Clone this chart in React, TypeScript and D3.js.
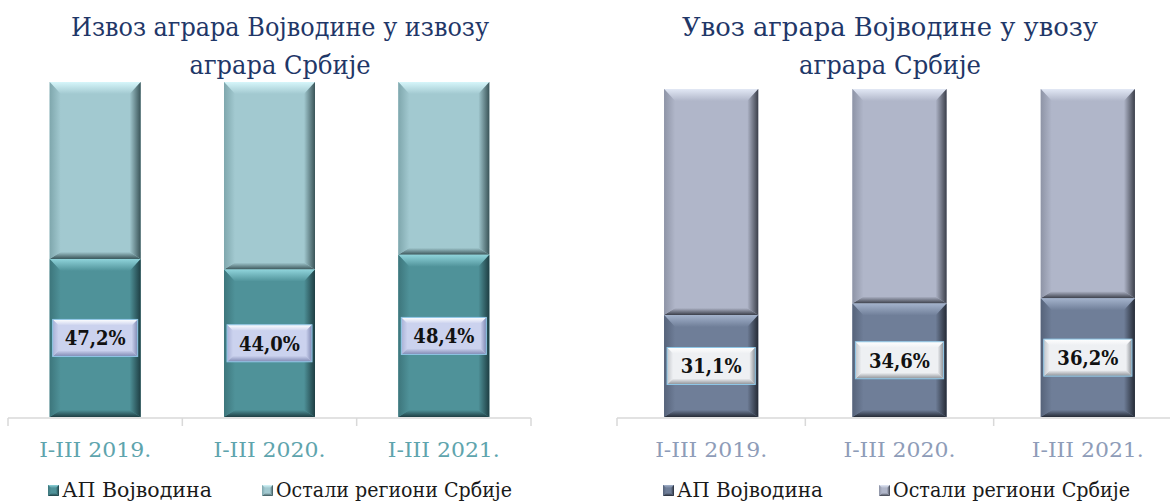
import React from "react";
import * as d3 from "d3";

const categories = ["I-III 2019.", "I-III 2020.", "I-III 2021."];
const exportVojvodina = [47.2, 44.0, 48.4];
const exportOther = [52.8, 56.0, 51.6];
const importVojvodina = [31.1, 34.6, 36.2];
const importOther = [68.9, 65.4, 63.8];
const exportTitle = ["Извоз аграра Војводине у извозу", "аграра Србије"];
const importTitle = ["Увоз аграра Војводине у увозу", "аграра Србије"];
const seriesNames = ["АП Војводина", "Остали региони Србије"];

const W = 1170;
const H = 504;
const SERIF = "'DejaVu Serif', serif";

type Tone = { base: string; light: string; dark: string; side: string };

const teal: Tone = { base: "#4F9299", light: "#8FD3DA", dark: "#1E3E43", side: "#3D767C" };
const tealLight: Tone = { base: "#A2C9D0", light: "#D6F6FA", dark: "#3A5458", side: "#7FA7AD" };
const slate: Tone = { base: "#6F7E98", light: "#A4B3CC", dark: "#252B36", side: "#56637A" };
const slateLight: Tone = { base: "#B0B6C9", light: "#E2E8F5", dark: "#3B3F4A", side: "#8E94A6" };
const lblBlue: Tone = { base: "#CBD2EE", light: "#FFFFFF", dark: "#7F88B2", side: "#A9B1D6" };
const lblGray: Tone = { base: "#EEF0F3", light: "#FFFFFF", dark: "#8C9096", side: "#C3C6CB" };

function GradDefs({ id, t }: { id: string; t: Tone }) {
  return (
    <>
      <linearGradient id={`${id}-top`} x1="0" y1="0" x2="0" y2="1">
        <stop offset="0" stopColor={t.light} />
        <stop offset="1" stopColor={t.base} />
      </linearGradient>
      <linearGradient id={`${id}-bot`} x1="0" y1="0" x2="0" y2="1">
        <stop offset="0" stopColor={t.base} />
        <stop offset="1" stopColor={t.dark} />
      </linearGradient>
      <linearGradient id={`${id}-left`} x1="0" y1="0" x2="1" y2="0">
        <stop offset="0" stopColor={t.side} />
        <stop offset="1" stopColor={t.base} />
      </linearGradient>
      <linearGradient id={`${id}-right`} x1="0" y1="0" x2="1" y2="0">
        <stop offset="0" stopColor={t.base} />
        <stop offset="1" stopColor={t.dark} />
      </linearGradient>
    </>
  );
}

function Bevel({ x, y, w, h, id, t, bt, bs, bb, stroke }: { x: number; y: number; w: number; h: number; id: string; t: Tone; bt: number; bs: number; bb: number; stroke?: string }) {
  const p = (pts: number[][]) => pts.map((q) => q.join(",")).join(" ");
  return (
    <g>
      <rect x={x} y={y} width={w} height={h} fill={t.base} />
      <polygon points={p([[x, y], [x + w, y], [x + w - bs, y + bt], [x + bs, y + bt]])} fill={`url(#${id}-top)`} />
      <polygon points={p([[x, y + h], [x + w, y + h], [x + w - bs, y + h - bb], [x + bs, y + h - bb]])} fill={`url(#${id}-bot)`} />
      <polygon points={p([[x, y], [x + bs, y + bt], [x + bs, y + h - bb], [x, y + h]])} fill={`url(#${id}-left)`} />
      <polygon points={p([[x + w, y], [x + w, y + h], [x + w - bs, y + h - bb], [x + w - bs, y + bt]])} fill={`url(#${id}-right)`} />
      {stroke && <rect x={x} y={y} width={w} height={h} fill="none" stroke={stroke} strokeWidth={1} />}
    </g>
  );
}

type PanelProps = {
  pid: string;
  title: string[];
  titleX: number;
  titleW: number[];
  range: [number, number];
  top: number;
  padding: number;
  vojv: number[];
  other: number[];
  toneA: Tone;
  toneB: Tone;
  lbl: Tone;
  labelColor: string;
  legendX: number[];
  legendW: number[];
};

function Panel(props: PanelProps) {
  const { pid, title, titleX, titleW, range, top, padding, vojv, other, toneA, toneB, lbl, labelColor, legendX, legendW } = props;
  const base = 417;
  const x = d3.scaleBand<string>().domain(categories).range(range).paddingInner(padding).paddingOuter(padding / 2);
  const y = d3.scaleLinear().domain([0, 100]).range([base, top]);
  const bw = x.bandwidth();
  const step = x.step();
  const ticks = [...categories.map((c) => (x(c) as number) - (step - bw) / 2), range[1]];
  return (
    <g>
      <defs>
        <GradDefs id={`${pid}-a`} t={toneA} />
        <GradDefs id={`${pid}-b`} t={toneB} />
        <GradDefs id={`${pid}-l`} t={lbl} />
      </defs>
      {title.map((line, i) => (
        <text key={i} x={titleX} y={36 + i * 38} textAnchor="middle" fontFamily={SERIF} fontSize={26} fill="#1F3768" textLength={titleW[i]} lengthAdjust="spacingAndGlyphs">
          {line}
        </text>
      ))}
      {categories.map((c, i) => {
        const bx = x(c) as number;
        const y0 = y(0);
        const y1 = y(vojv[i]);
        const y2 = y(vojv[i] + other[i]);
        const mid = (y0 + y1) / 2;
        const lw = bw - 6;
        const lh = 37;
        return (
          <g key={c}>
            <Bevel x={bx} y={y2} w={bw} h={y1 - y2} id={`${pid}-b`} t={toneB} bt={12} bs={11} bb={7} />
            <Bevel x={bx} y={y1} w={bw} h={y0 - y1} id={`${pid}-a`} t={toneA} bt={12} bs={11} bb={7} />
            <Bevel x={bx + 3} y={mid - lh / 2} w={lw} h={lh} id={`${pid}-l`} t={lbl} bt={6} bs={6} bb={6} stroke="#8EC6E6" />
            <text x={bx + bw / 2} y={mid + 7.5} textAnchor="middle" fontFamily={SERIF} fontStretch="condensed" fontWeight="bold" fontSize={20} fill="#111">
              {vojv[i].toFixed(1).replace(".", ",")}%
            </text>
          </g>
        );
      })}
      <line x1={range[0]} x2={range[1]} y1={base + 1} y2={base + 1} stroke="#D9D9D9" strokeWidth={1.5} />
      {ticks.map((t, i) => (
        <line key={i} x1={t} x2={t} y1={base + 1} y2={base + 9} stroke="#D9D9D9" strokeWidth={1.5} />
      ))}
      {categories.map((c) => (
        <text key={c} x={(x(c) as number) + bw / 2} y={457} textAnchor="middle" fontFamily={SERIF} fontSize={21} fill={labelColor} textLength={112} lengthAdjust="spacingAndGlyphs">
          {c}
        </text>
      ))}
      {seriesNames.map((s, i) => (
        <g key={s}>
          <Bevel x={legendX[i]} y={485} w={11} h={11} id={`${pid}-${i === 0 ? "a" : "b"}`} t={i === 0 ? toneA : toneB} bt={3} bs={3} bb={3} />
          <text x={legendX[i] + 14} y={497} fontFamily={SERIF} fontSize={20} fill="#1a1a1a" textLength={legendW[i]} lengthAdjust="spacingAndGlyphs">
            {s}
          </text>
        </g>
      ))}
    </g>
  );
}

export default function App() {
  return (
    <svg width={W} height={H} style={{ position: "absolute", left: 0, top: 0, background: "#fff" }}>
      <rect width={W} height={H} fill="#fff" />
      <Panel
        pid="exp"
        title={exportTitle}
        titleX={280}
        titleW={[418, 181]}
        range={[8, 531]}
        top={82}
        padding={0.478}
        vojv={exportVojvodina}
        other={exportOther}
        toneA={teal}
        toneB={tealLight}
        lbl={lblBlue}
        labelColor="#5EA4AD"
        legendX={[48, 262]}
        legendW={[150, 236]}
      />
      <Panel
        pid="imp"
        title={importTitle}
        titleX={890}
        titleW={[416, 182]}
        range={[617, 1182]}
        top={89}
        padding={0.5}
        vojv={importVojvodina}
        other={importOther}
        toneA={slate}
        toneB={slateLight}
        lbl={lblGray}
        labelColor="#8E9CB8"
        legendX={[663, 879]}
        legendW={[146, 237]}
      />
    </svg>
  );
}
